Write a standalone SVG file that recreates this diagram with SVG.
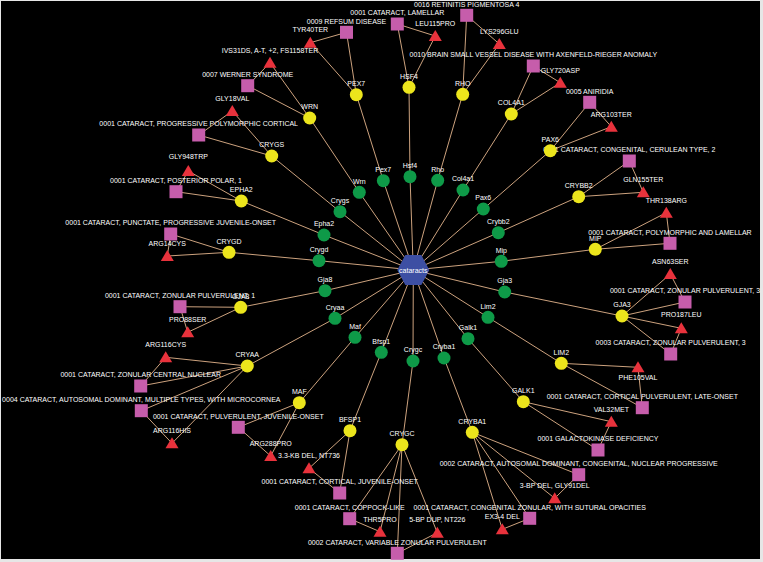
<svg xmlns="http://www.w3.org/2000/svg" xmlns:xlink="http://www.w3.org/1999/xlink" width="763" height="562" viewBox="0 0 763 562">
<style>
.e line{stroke:#e3b48c;stroke-width:0.9}
.g{fill:#0e9a48}
.y{fill:#ece51c}
.d{fill:#c65dab}
.m{fill:#e8323c}
.hub{fill:#3d4fa3}
text{font-family:"Liberation Sans",Arial,sans-serif;font-size:7px;fill:#ffffff;text-anchor:middle}
</style>
<defs>
<polygon id="tri" points="0,-6 -6.5,5 6.5,5"/>
<rect id="sq" x="-6.5" y="-6.5" width="13" height="13"/>
</defs>
<rect x="0" y="0" width="763" height="562" fill="#e6e6e6"/>
<rect x="1" y="1" width="759" height="558" fill="#000000"/>
<g id="connectors" class="e">
<line x1="413.3" y1="270" x2="359.3" y2="192.3"/>
<line x1="413.3" y1="270" x2="383.3" y2="180.7"/>
<line x1="413.3" y1="270" x2="410" y2="176.7"/>
<line x1="413.3" y1="270" x2="437.7" y2="180.3"/>
<line x1="413.3" y1="270" x2="463" y2="190"/>
<line x1="413.3" y1="270" x2="483.3" y2="209"/>
<line x1="413.3" y1="270" x2="498.3" y2="232.7"/>
<line x1="413.3" y1="270" x2="501.3" y2="261.3"/>
<line x1="413.3" y1="270" x2="504.7" y2="292"/>
<line x1="413.3" y1="270" x2="488" y2="317.3"/>
<line x1="413.3" y1="270" x2="468" y2="338.7"/>
<line x1="413.3" y1="270" x2="444" y2="358"/>
<line x1="413.3" y1="270" x2="413" y2="361"/>
<line x1="413.3" y1="270" x2="381.3" y2="352.3"/>
<line x1="413.3" y1="270" x2="355" y2="337.3"/>
<line x1="413.3" y1="270" x2="335" y2="318.3"/>
<line x1="413.3" y1="270" x2="325" y2="290.7"/>
<line x1="413.3" y1="270" x2="319" y2="260.7"/>
<line x1="413.3" y1="270" x2="324" y2="235"/>
<line x1="413.3" y1="270" x2="340" y2="211.7"/>
<line x1="359.3" y1="192.3" x2="309.7" y2="118"/>
<line x1="383.3" y1="180.7" x2="356.3" y2="94.7"/>
<line x1="410" y1="176.7" x2="409" y2="87.3"/>
<line x1="437.7" y1="180.3" x2="462.7" y2="94.3"/>
<line x1="463" y1="190" x2="511.3" y2="114"/>
<line x1="483.3" y1="209" x2="550.3" y2="150.7"/>
<line x1="498.3" y1="232.7" x2="578.7" y2="196.7"/>
<line x1="501.3" y1="261.3" x2="595.3" y2="249.3"/>
<line x1="504.7" y1="292" x2="622" y2="316"/>
<line x1="488" y1="317.3" x2="561.3" y2="363.3"/>
<line x1="468" y1="338.7" x2="523.3" y2="401.7"/>
<line x1="444" y1="358" x2="472.3" y2="432.3"/>
<line x1="413" y1="361" x2="402" y2="444.7"/>
<line x1="381.3" y1="352.3" x2="350" y2="430.7"/>
<line x1="355" y1="337.3" x2="299.3" y2="402.7"/>
<line x1="335" y1="318.3" x2="247.3" y2="366"/>
<line x1="325" y1="290.7" x2="240.7" y2="307.3"/>
<line x1="319" y1="260.7" x2="229" y2="252.3"/>
<line x1="324" y1="235" x2="241.3" y2="201"/>
<line x1="340" y1="211.7" x2="271.7" y2="156"/>
<line x1="309.7" y1="118" x2="247.7" y2="85.7"/>
<line x1="309.7" y1="118" x2="270" y2="62.7"/>
<line x1="270" y1="62.7" x2="247.7" y2="85.7"/>
<line x1="356.3" y1="94.7" x2="346.5" y2="32.3"/>
<line x1="356.3" y1="94.7" x2="310.3" y2="42.7"/>
<line x1="310.3" y1="42.7" x2="346.5" y2="32.3"/>
<line x1="409" y1="87.3" x2="397.3" y2="24"/>
<line x1="409" y1="87.3" x2="435.3" y2="36"/>
<line x1="435.3" y1="36" x2="397.3" y2="24"/>
<line x1="462.7" y1="94.3" x2="466.7" y2="15.3"/>
<line x1="462.7" y1="94.3" x2="499.3" y2="44"/>
<line x1="499.3" y1="44" x2="466.7" y2="15.3"/>
<line x1="511.3" y1="114" x2="533.3" y2="66"/>
<line x1="511.3" y1="114" x2="560.3" y2="82.7"/>
<line x1="560.3" y1="82.7" x2="533.3" y2="66"/>
<line x1="550.3" y1="150.7" x2="589.7" y2="102.3"/>
<line x1="550.3" y1="150.7" x2="611.3" y2="126.7"/>
<line x1="611.3" y1="126.7" x2="589.7" y2="102.3"/>
<line x1="578.7" y1="196.7" x2="629.3" y2="161"/>
<line x1="578.7" y1="196.7" x2="643.3" y2="192.3"/>
<line x1="643.3" y1="192.3" x2="629.3" y2="161"/>
<line x1="595.3" y1="249.3" x2="670" y2="243.3"/>
<line x1="595.3" y1="249.3" x2="666.3" y2="212.7"/>
<line x1="666.3" y1="212.7" x2="670" y2="243.3"/>
<line x1="622" y1="316" x2="685" y2="302"/>
<line x1="622" y1="316" x2="670.3" y2="274"/>
<line x1="622" y1="316" x2="670.7" y2="354"/>
<line x1="622" y1="316" x2="681.3" y2="328.3"/>
<line x1="670.3" y1="274" x2="685" y2="302"/>
<line x1="681.3" y1="328.3" x2="670.7" y2="354"/>
<line x1="561.3" y1="363.3" x2="638" y2="367.3"/>
<line x1="561.3" y1="363.3" x2="642.3" y2="407.7"/>
<line x1="638" y1="367.3" x2="642.3" y2="407.7"/>
<line x1="523.3" y1="401.7" x2="611.3" y2="421.7"/>
<line x1="523.3" y1="401.7" x2="598" y2="450"/>
<line x1="611.3" y1="421.7" x2="598" y2="450"/>
<line x1="472.3" y1="432.3" x2="578.7" y2="474.7"/>
<line x1="472.3" y1="432.3" x2="554.7" y2="498.3"/>
<line x1="472.3" y1="432.3" x2="529.7" y2="518.3"/>
<line x1="472.3" y1="432.3" x2="502.3" y2="529.3"/>
<line x1="554.7" y1="498.3" x2="578.7" y2="474.7"/>
<line x1="502.3" y1="529.3" x2="529.7" y2="518.3"/>
<line x1="402" y1="444.7" x2="349.7" y2="518.7"/>
<line x1="402" y1="444.7" x2="380" y2="531.7"/>
<line x1="402" y1="444.7" x2="397.3" y2="553.3"/>
<line x1="402" y1="444.7" x2="437.3" y2="532.7"/>
<line x1="380" y1="531.7" x2="349.7" y2="518.7"/>
<line x1="437.3" y1="532.7" x2="397.3" y2="553.3"/>
<line x1="350" y1="430.7" x2="309" y2="468.3"/>
<line x1="350" y1="430.7" x2="339.7" y2="493"/>
<line x1="309" y1="468.3" x2="339.7" y2="493"/>
<line x1="299.3" y1="402.7" x2="238.3" y2="427.3"/>
<line x1="299.3" y1="402.7" x2="270.7" y2="456"/>
<line x1="238.3" y1="427.3" x2="270.7" y2="456"/>
<line x1="247.3" y1="366" x2="165.7" y2="357.3"/>
<line x1="247.3" y1="366" x2="140.7" y2="386"/>
<line x1="247.3" y1="366" x2="141.3" y2="410.7"/>
<line x1="247.3" y1="366" x2="172" y2="443.3"/>
<line x1="165.7" y1="357.3" x2="140.7" y2="386"/>
<line x1="172" y1="443.3" x2="141.3" y2="410.7"/>
<line x1="240.7" y1="307.3" x2="180" y2="306.7"/>
<line x1="240.7" y1="307.3" x2="187.7" y2="332.3"/>
<line x1="187.7" y1="332.3" x2="180" y2="306.7"/>
<line x1="229" y1="252.3" x2="170.7" y2="234"/>
<line x1="229" y1="252.3" x2="167.3" y2="256"/>
<line x1="167.3" y1="256" x2="170.7" y2="234"/>
<line x1="241.3" y1="201" x2="176" y2="191.7"/>
<line x1="241.3" y1="201" x2="188.3" y2="171"/>
<line x1="188.3" y1="171" x2="176" y2="191.7"/>
<line x1="271.7" y1="156" x2="198.7" y2="135"/>
<line x1="271.7" y1="156" x2="232.3" y2="111"/>
<line x1="232.3" y1="111" x2="198.7" y2="135"/>
</g>
<!-- disease variant nodes -->
<g id="d1"><use href="#sq" class="d" x="346.5" y="32.3"/><text x="346.5" y="23.6">0009 REFSUM DISEASE</text></g>
<g id="d2"><use href="#sq" class="d" x="397.3" y="24"/><text x="397.3" y="15.3">0001 CATARACT, LAMELLAR</text></g>
<g id="d3"><use href="#sq" class="d" x="466.7" y="15.3"/><text x="466.7" y="6.6">0016 RETINITIS PIGMENTOSA 4</text></g>
<g id="d4"><use href="#sq" class="d" x="533.3" y="66"/><text x="533.3" y="57.3">0010 BRAIN SMALL VESSEL DISEASE WITH AXENFELD-RIEGER ANOMALY</text></g>
<g id="d5"><use href="#sq" class="d" x="589.7" y="102.3"/><text x="589.7" y="93.6">0005 ANIRIDIA</text></g>
<g id="d6"><use href="#sq" class="d" x="629.3" y="161"/><text x="629.3" y="152.3">0001 CATARACT, CONGENITAL, CERULEAN TYPE, 2</text></g>
<g id="d7"><use href="#sq" class="d" x="670" y="243.3"/><text x="670" y="234.6">0001 CATARACT, POLYMORPHIC AND LAMELLAR</text></g>
<g id="d8"><use href="#sq" class="d" x="685" y="302"/><text x="685" y="293.3">0001 CATARACT, ZONULAR PULVERULENT, 3</text></g>
<g id="d9"><use href="#sq" class="d" x="670.7" y="354"/><text x="670.7" y="345.3">0003 CATARACT, ZONULAR PULVERULENT, 3</text></g>
<g id="d10"><use href="#sq" class="d" x="642.3" y="407.7"/><text x="642.3" y="399">0001 CATARACT, CORTICAL PULVERULENT, LATE-ONSET</text></g>
<g id="d11"><use href="#sq" class="d" x="598" y="450"/><text x="598" y="441.3">0001 GALACTOKINASE DEFICIENCY</text></g>
<g id="d12"><use href="#sq" class="d" x="578.7" y="474.7"/><text x="578.7" y="466">0002 CATARACT, AUTOSOMAL DOMINANT, CONGENITAL, NUCLEAR PROGRESSIVE</text></g>
<g id="d13"><use href="#sq" class="d" x="529.7" y="518.3"/><text x="529.7" y="509.6">0001 CATARACT, CONGENITAL ZONULAR, WITH SUTURAL OPACITIES</text></g>
<g id="d14"><use href="#sq" class="d" x="397.3" y="553.3"/><text x="397.3" y="544.6">0002 CATARACT, VARIABLE ZONULAR PULVERULENT</text></g>
<g id="d15"><use href="#sq" class="d" x="349.7" y="518.7"/><text x="349.7" y="510">0001 CATARACT, COPPOCK-LIKE</text></g>
<g id="d16"><use href="#sq" class="d" x="339.7" y="493"/><text x="339.7" y="484.3">0001 CATARACT, CORTICAL, JUVENILE-ONSET</text></g>
<g id="d17"><use href="#sq" class="d" x="238.3" y="427.3"/><text x="238.3" y="418.6">0001 CATARACT, PULVERULENT, JUVENILE-ONSET</text></g>
<g id="d18"><use href="#sq" class="d" x="141.3" y="410.7"/><text x="141.3" y="402">0004 CATARACT, AUTOSOMAL DOMINANT, MULTIPLE TYPES, WITH MICROCORNEA</text></g>
<g id="d19"><use href="#sq" class="d" x="140.7" y="386"/><text x="140.7" y="377.3">0001 CATARACT, ZONULAR CENTRAL NUCLEAR</text></g>
<g id="d20"><use href="#sq" class="d" x="180" y="306.7"/><text x="180" y="298">0001 CATARACT, ZONULAR PULVERULENT, 1</text></g>
<g id="d21"><use href="#sq" class="d" x="170.7" y="234"/><text x="170.7" y="225.3">0001 CATARACT, PUNCTATE, PROGRESSIVE JUVENILE-ONSET</text></g>
<g id="d22"><use href="#sq" class="d" x="176" y="191.7"/><text x="176" y="183">0001 CATARACT, POSTERIOR POLAR, 1</text></g>
<g id="d23"><use href="#sq" class="d" x="198.7" y="135"/><text x="198.7" y="126.3">0001 CATARACT, PROGRESSIVE POLYMORPHIC CORTICAL</text></g>
<g id="d24"><use href="#sq" class="d" x="247.7" y="85.7"/><text x="247.7" y="77">0007 WERNER SYNDROME</text></g>
<!-- mutation nodes -->
<g id="m1"><use href="#tri" class="m" x="310.3" y="42.7"/><text x="310.3" y="32">TYR40TER</text></g>
<g id="m2"><use href="#tri" class="m" x="270" y="62.7"/><text x="270" y="53">IVS31DS, A-T, +2, FS1158TER</text></g>
<g id="m3"><use href="#tri" class="m" x="435.3" y="36"/><text x="435.3" y="26">LEU115PRO</text></g>
<g id="m4"><use href="#tri" class="m" x="499.3" y="44"/><text x="499.3" y="33.5">LYS296GLU</text></g>
<g id="m5"><use href="#tri" class="m" x="560.3" y="82.7"/><text x="560.3" y="72.5">GLY720ASP</text></g>
<g id="m6"><use href="#tri" class="m" x="611.3" y="126.7"/><text x="611.3" y="117">ARG103TER</text></g>
<g id="m7"><use href="#tri" class="m" x="643.3" y="192.3"/><text x="643.3" y="182">GLN155TER</text></g>
<g id="m8"><use href="#tri" class="m" x="666.3" y="212.7"/><text x="666.3" y="202.5">THR138ARG</text></g>
<g id="m9"><use href="#tri" class="m" x="670.3" y="274"/><text x="670.3" y="263.5">ASN63SER</text></g>
<g id="m10"><use href="#tri" class="m" x="681.3" y="328.3"/><text x="681.3" y="317">PRO187LEU</text></g>
<g id="m11"><use href="#tri" class="m" x="638" y="367.3"/><text x="638" y="379.5">PHE105VAL</text></g>
<g id="m12"><use href="#tri" class="m" x="611.3" y="421.7"/><text x="611.3" y="411.7">VAL32MET</text></g>
<g id="m13"><use href="#tri" class="m" x="554.7" y="498.3"/><text x="554.7" y="488.3">3-BP DEL, GLY91DEL</text></g>
<g id="m14"><use href="#tri" class="m" x="502.3" y="529.3"/><text x="502.3" y="519.3">EX3-4 DEL</text></g>
<g id="m15"><use href="#tri" class="m" x="437.3" y="532.7"/><text x="437.3" y="522">5-BP DUP, NT226</text></g>
<g id="m16"><use href="#tri" class="m" x="380" y="531.7"/><text x="380" y="521.7">THR5PRO</text></g>
<g id="m17"><use href="#tri" class="m" x="309" y="468.3"/><text x="309" y="458.3">3.3-KB DEL, NT736</text></g>
<g id="m18"><use href="#tri" class="m" x="270.7" y="456"/><text x="270.7" y="446">ARG288PRO</text></g>
<g id="m19"><use href="#tri" class="m" x="172" y="443.3"/><text x="172" y="433.3">ARG116HIS</text></g>
<g id="m20"><use href="#tri" class="m" x="165.7" y="357.3"/><text x="165.7" y="346.5">ARG116CYS</text></g>
<g id="m21"><use href="#tri" class="m" x="187.7" y="332.3"/><text x="187.7" y="322">PRO88SER</text></g>
<g id="m22"><use href="#tri" class="m" x="167.3" y="256"/><text x="167.3" y="246">ARG14CYS</text></g>
<g id="m23"><use href="#tri" class="m" x="188.3" y="171"/><text x="188.3" y="159">GLY948TRP</text></g>
<g id="m24"><use href="#tri" class="m" x="232.3" y="111"/><text x="232.3" y="101">GLY18VAL</text></g>
<!-- OMIM gene nodes (yellow) -->
<g id="y_WRN"><circle class="y" cx="309.7" cy="118" r="6.5"/><text x="309.7" y="109.3">WRN</text></g>
<g id="y_PEX7"><circle class="y" cx="356.3" cy="94.7" r="6.5"/><text x="356.3" y="86">PEX7</text></g>
<g id="y_HSF4"><circle class="y" cx="409" cy="87.3" r="6.5"/><text x="409" y="78.6">HSF4</text></g>
<g id="y_RHO"><circle class="y" cx="462.7" cy="94.3" r="6.5"/><text x="462.7" y="85.6">RHO</text></g>
<g id="y_COL4A1"><circle class="y" cx="511.3" cy="114" r="6.5"/><text x="511.3" y="105.3">COL4A1</text></g>
<g id="y_PAX6"><circle class="y" cx="550.3" cy="150.7" r="6.5"/><text x="550.3" y="142">PAX6</text></g>
<g id="y_CRYBB2"><circle class="y" cx="578.7" cy="196.7" r="6.5"/><text x="578.7" y="188">CRYBB2</text></g>
<g id="y_MIP"><circle class="y" cx="595.3" cy="249.3" r="6.5"/><text x="595.3" y="240.6">MIP</text></g>
<g id="y_GJA3"><circle class="y" cx="622" cy="316" r="6.5"/><text x="622" y="307.3">GJA3</text></g>
<g id="y_LIM2"><circle class="y" cx="561.3" cy="363.3" r="6.5"/><text x="561.3" y="354.6">LIM2</text></g>
<g id="y_GALK1"><circle class="y" cx="523.3" cy="401.7" r="6.5"/><text x="523.3" y="393">GALK1</text></g>
<g id="y_CRYBA1"><circle class="y" cx="472.3" cy="432.3" r="6.5"/><text x="472.3" y="423.6">CRYBA1</text></g>
<g id="y_CRYGC"><circle class="y" cx="402" cy="444.7" r="6.5"/><text x="402" y="436">CRYGC</text></g>
<g id="y_BFSP1"><circle class="y" cx="350" cy="430.7" r="6.5"/><text x="350" y="422">BFSP1</text></g>
<g id="y_MAF"><circle class="y" cx="299.3" cy="402.7" r="6.5"/><text x="299.3" y="394">MAF</text></g>
<g id="y_CRYAA"><circle class="y" cx="247.3" cy="366" r="6.5"/><text x="247.3" y="357.3">CRYAA</text></g>
<g id="y_GJA8"><circle class="y" cx="240.7" cy="307.3" r="6.5"/><text x="240.7" y="298.6">GJA8</text></g>
<g id="y_CRYGD"><circle class="y" cx="229" cy="252.3" r="6.5"/><text x="229" y="243.6">CRYGD</text></g>
<g id="y_EPHA2"><circle class="y" cx="241.3" cy="201" r="6.5"/><text x="241.3" y="192.3">EPHA2</text></g>
<g id="y_CRYGS"><circle class="y" cx="271.7" cy="156" r="6.5"/><text x="271.7" y="147.3">CRYGS</text></g>
<!-- gene nodes (green) -->
<g id="g_Wrn"><circle class="g" cx="359.3" cy="192.3" r="6.5"/><text x="359.3" y="183.6">Wrn</text></g>
<g id="g_Pex7"><circle class="g" cx="383.3" cy="180.7" r="6.5"/><text x="383.3" y="172">Pex7</text></g>
<g id="g_Hsf4"><circle class="g" cx="410" cy="176.7" r="6.5"/><text x="410" y="168">Hsf4</text></g>
<g id="g_Rho"><circle class="g" cx="437.7" cy="180.3" r="6.5"/><text x="437.7" y="171.6">Rho</text></g>
<g id="g_Col4a1"><circle class="g" cx="463" cy="190" r="6.5"/><text x="463" y="181.3">Col4a1</text></g>
<g id="g_Pax6"><circle class="g" cx="483.3" cy="209" r="6.5"/><text x="483.3" y="200.3">Pax6</text></g>
<g id="g_Crybb2"><circle class="g" cx="498.3" cy="232.7" r="6.5"/><text x="498.3" y="224">Crybb2</text></g>
<g id="g_Mip"><circle class="g" cx="501.3" cy="261.3" r="6.5"/><text x="501.3" y="252.6">Mip</text></g>
<g id="g_Gja3"><circle class="g" cx="504.7" cy="292" r="6.5"/><text x="504.7" y="283.3">Gja3</text></g>
<g id="g_Lim2"><circle class="g" cx="488" cy="317.3" r="6.5"/><text x="488" y="308.6">Lim2</text></g>
<g id="g_Galk1"><circle class="g" cx="468" cy="338.7" r="6.5"/><text x="468" y="330">Galk1</text></g>
<g id="g_Cryba1"><circle class="g" cx="444" cy="358" r="6.5"/><text x="444" y="349.3">Cryba1</text></g>
<g id="g_Crygc"><circle class="g" cx="413" cy="361" r="6.5"/><text x="413" y="352.3">Crygc</text></g>
<g id="g_Bfsp1"><circle class="g" cx="381.3" cy="352.3" r="6.5"/><text x="381.3" y="343.6">Bfsp1</text></g>
<g id="g_Maf"><circle class="g" cx="355" cy="337.3" r="6.5"/><text x="355" y="328.6">Maf</text></g>
<g id="g_Cryaa"><circle class="g" cx="335" cy="318.3" r="6.5"/><text x="335" y="309.6">Cryaa</text></g>
<g id="g_Gja8"><circle class="g" cx="325" cy="290.7" r="6.5"/><text x="325" y="282">Gja8</text></g>
<g id="g_Crygd"><circle class="g" cx="319" cy="260.7" r="6.5"/><text x="319" y="252">Crygd</text></g>
<g id="g_Epha2"><circle class="g" cx="324" cy="235" r="6.5"/><text x="324" y="226.3">Epha2</text></g>
<g id="g_Crygs"><circle class="g" cx="340" cy="211.7" r="6.5"/><text x="340" y="203">Crygs</text></g>
<g id="hub_cataracts"><polygon class="hub" points="397.3,270 405.3,255 421.3,255 429.3,270 421.3,285 405.3,285"/><text x="413.3" y="272.5">cataracts</text></g>
</svg>
